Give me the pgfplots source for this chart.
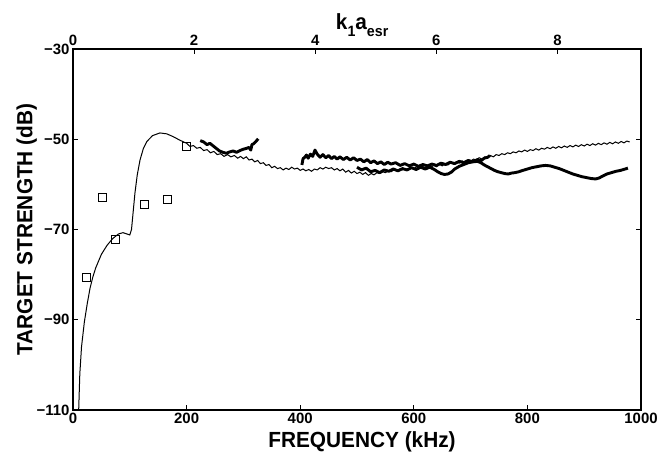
\documentclass[border=0pt]{standalone}
\usepackage{fontspec}
\setmainfont{Liberation Sans}
\newfontfamily\labfam{Liberation Sans}[FakeStretch=0.95]
\newfontfamily\tickfam{Liberation Sans}
\usepackage{pgfplots}
\pgfplotsset{compat=1.18}

% model (thin) curve
\pgfplotstableread{
f ts
10 -110
12 -102
15 -96
20 -90.5
25 -86.5
30 -83
35 -80.5
40 -78.5
50 -75.5
60 -73.5
70 -72
80 -71
88 -70.7
95 -71
100 -71.2
103 -70
106 -66
109 -62
113 -58
118 -54.6
124 -52
130 -50.5
140 -49.2
153 -48.6
165 -48.8
176 -49.4
188 -50.2
200 -50.9
206 -51.6
212 -51.4
218 -52.0
224 -51.8
230 -52.5
236 -52.3
242 -53.0
248 -52.7
254 -53.4
260 -53.2
266 -53.8
272 -53.4
278 -53.9
284 -53.6
290 -54.2
295 -53.8
300 -54.3
305 -53.9
310 -54.6
315 -54.4
320 -55.0
325 -54.7
330 -55.4
335 -55.2
340 -55.8
345 -55.6
350 -56.3
355 -56.0
360 -56.5
365 -56.3
370 -56.8
375 -56.4
380 -56.7
385 -56.2
390 -56.6
395 -56.4
400 -56.9
405 -56.6
410 -57.0
415 -56.7
420 -57.1
425 -56.6
430 -56.8
435 -56.3
440 -56.6
445 -56.2
450 -56.5
455 -56.3
460 -56.8
465 -56.5
470 -57.0
475 -56.6
480 -57.3
485 -56.9
490 -57.5
495 -57.1
500 -57.6
505 -57.3
510 -57.8
515 -57.4
520 -58.0
525 -57.6
530 -57.9
535 -57.4
540 -57.6
545 -57.2
550 -57.4
555 -57.0
560 -57.2
565 -56.8
570 -57.0
575 -56.6
580 -56.8
585 -56.5
590 -56.8
595 -56.3
600 -56.6
605 -56.1
610 -56.4
615 -56.0
620 -56.3
625 -55.9
630 -56.2
635 -55.8
640 -56.1
645 -55.6
650 -55.9
655 -55.4
660 -55.7
665 -55.2
670 -55.5
675 -55.0
680 -55.3
685 -54.8
690 -55.1
695 -54.6
700 -54.9
705 -54.4
710 -54.6
715 -54.1
720 -54.4
725 -53.9
730 -54.1
735 -53.6
740 -53.9
745 -53.4
750 -53.6
755 -53.2
760 -53.4
765 -53.0
770 -53.2
775 -52.8
780 -53.0
785 -52.6
790 -52.8
795 -52.4
800 -52.7
805 -52.3
810 -52.5
815 -52.1
820 -52.4
825 -52.0
830 -52.2
835 -51.8
840 -52.1
845 -51.7
850 -52.0
855 -51.6
860 -51.9
865 -51.5
870 -51.8
875 -51.4
880 -51.7
885 -51.3
890 -51.6
895 -51.2
900 -51.5
905 -51.1
910 -51.4
915 -51.0
920 -51.3
925 -50.9
930 -51.2
935 -50.8
940 -51.1
945 -50.7
950 -51.0
955 -50.6
960 -50.9
965 -50.5
970 -50.8
975 -50.4
980 -50.6
}\modeldata

% measured (thick), first band
\pgfplotstableread{
f ts
224 -50.3
230 -50.6
236 -51.2
241 -50.9
246 -51.4
252 -52.0
258 -52.6
264 -52.9
270 -53.1
276 -52.8
282 -52.6
288 -52.9
294 -52.5
300 -52.2
306 -52.0
310 -51.8
313 -52.4
315 -51.2
318 -51.0
322 -50.5
326 -49.9
}\measA

% measured, upper curve of second band
\pgfplotstableread{
f ts
403 -55.7
405 -54.3
408 -54.0
411 -53.5
414 -54.2
418 -53.3
422 -53.8
426 -52.4
430 -53.3
435 -54.0
440 -53.4
445 -54.1
450 -53.6
455 -54.3
460 -53.8
465 -54.4
470 -53.9
476 -54.5
482 -54.0
488 -54.6
494 -54.1
500 -54.7
506 -54.4
512 -55.0
518 -54.5
524 -55.2
530 -54.8
536 -55.4
542 -55.0
548 -55.6
554 -55.1
560 -55.5
568 -55.2
576 -55.8
584 -55.4
592 -55.9
600 -55.5
608 -56.0
616 -55.6
624 -55.9
632 -55.5
640 -55.8
648 -55.3
656 -55.6
664 -55.1
672 -55.4
680 -54.9
688 -55.2
696 -54.7
704 -55.0
712 -54.5
718 -54.8
724 -54.2
730 -54.0
734 -53.6
}\measB

% measured, lower curve of second band
\pgfplotstableread{
f ts
500 -56.2
508 -56.8
516 -56.4
524 -57.2
532 -56.9
540 -57.4
548 -56.8
556 -57.1
564 -56.6
572 -57.0
580 -56.5
588 -56.8
596 -56.3
604 -56.7
612 -56.2
620 -56.6
628 -56.2
636 -56.7
642 -57.2
648 -57.6
654 -57.8
660 -57.7
666 -57.3
672 -56.6
680 -56.0
688 -55.6
696 -55.2
704 -55.0
712 -54.9
718 -55.2
724 -55.7
730 -56.1
736 -56.5
742 -56.9
748 -57.2
754 -57.4
760 -57.6
766 -57.7
772 -57.5
778 -57.4
785 -57.2
792 -56.9
800 -56.6
808 -56.3
816 -56.1
824 -55.9
832 -55.8
840 -55.9
848 -56.2
856 -56.5
864 -56.9
872 -57.3
880 -57.7
888 -58.0
896 -58.3
904 -58.5
912 -58.7
920 -58.8
926 -58.6
932 -58.2
940 -57.7
948 -57.4
956 -57.1
964 -56.9
972 -56.6
977 -56.4
}\measC

\begin{document}
\begin{tikzpicture}
\begin{axis}[
  name=ax,
  scale only axis, width=568bp, height=361bp,
  xmin=0, xmax=1000, ymin=-110, ymax=-30,
  xtick={0,200,400,600,800,1000},
  ytick={-110,-90,-70,-50,-30},
  yticklabels={−110,−90,−70,−50,−30},
  xtick pos=lower, ytick pos=both,
  tick align=inside, major tick length=5bp,
  axis line style={line width=1.2bp},
  tick style={line width=1bp, black},
  tick label style={font=\tickfam\bfseries\fontsize{15}{15}\selectfont},
  /pgf/number format/assume math mode=true,
  /pgf/number format/1000 sep={},
  xlabel={FREQUENCY (kHz)},
  ylabel={TARGET STRENGTH (dB)},
  label style={font=\labfam\bfseries\fontsize{22}{22}\selectfont},
  xlabel style={yshift=-1bp, xshift=5bp},
  ylabel style={yshift=-7bp},
]
\addplot[black, line width=1bp] table[x=f, y=ts] {\modeldata};
\addplot[black, line width=2.9bp, line join=round] table[x=f, y=ts] {\measA};
\addplot[black, line width=2.9bp, line join=round] table[x=f, y=ts] {\measB};
\addplot[black, line width=2.9bp, line join=round] table[x=f, y=ts] {\measC};
\addplot[only marks, mark=square, mark size=4bp, black, line width=1bp]
  coordinates {(24.6,-80.6) (52.8,-63) (75.7,-72.3) (125,-64.4) (165.5,-63.3) (200.7,-51.5)};
\end{axis}
\begin{axis}[
  scale only axis, width=568bp, height=361bp,
  xmin=0, xmax=9.38, ymin=0, ymax=1,
  axis x line*=top, hide y axis, clip=false,
  xtick={0,2,4,6,8},
  tick align=inside, major tick length=5bp,
  axis line style={line width=1.2bp},
  tick style={line width=1bp, black},
  tick label style={font=\tickfam\bfseries\fontsize{15}{15}\selectfont},
  /pgf/number format/assume math mode=true,
]
\node[anchor=base, font=\labfam\bfseries\fontsize{22}{22}\selectfont]
  at (rel axis cs:0.509,1) [yshift=19bp]
  {k\raisebox{-0.28em}{\fontsize{15}{15}\selectfont 1}a\raisebox{-0.28em}{\fontsize{15}{15}\selectfont esr}};
\end{axis}
\pgfresetboundingbox
\path ([shift={(-73bp,-46bp)}]ax.south west) rectangle ([shift={(25bp,49bp)}]ax.north east);
\end{tikzpicture}
\end{document}
